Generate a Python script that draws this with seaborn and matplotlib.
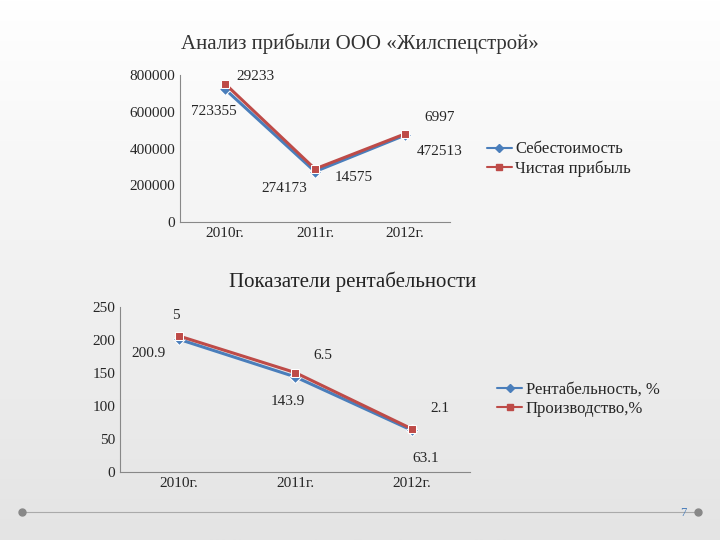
import matplotlib
matplotlib.use("Agg")
import matplotlib.pyplot as plt
import seaborn as sns
import pandas as pd
import numpy as np

years = ["2010г.", "2011г.", "2012г."]
cost = [723355, 274173, 472513]
profit = [29233, 14575, 6997]
rent = [200.9, 143.9, 63.1]
prod = [5, 6.5, 2.1]

sns.set_style("white")
plt.rcParams['font.family'] = ['Liberation Serif', 'DejaVu Serif']
BLUE = "#4a7ebb"; RED = "#be4b48"

fig = plt.figure(figsize=(7.2, 5.4), dpi=100)
bg = fig.add_axes([0, 0, 1, 1], zorder=-10)
g = np.linspace(0, 1, 256).reshape(-1, 1)
bg.imshow(g, cmap=matplotlib.colors.LinearSegmentedColormap.from_list("g", ["#ffffff", "#e4e4e4"]), aspect="auto", extent=[0, 1, 0, 1])
bg.axis("off")
bg.plot([0.03, 0.97], [0.052, 0.052], color="#aaaaaa", lw=0.8)
bg.plot([0.03, 0.97], [0.052, 0.052], "o", color="#888888", ms=5)
bg.text(0.945, 0.045, "7", fontsize=9, color="#4a7ebb")
bg.set_xlim(0, 1); bg.set_ylim(0, 1)

def chart(rect, base, add, names, ylim, yticks, title, ty, lx, ly, base_off, add_off, fmt):
    ax = fig.add_axes(rect)
    ax.patch.set_alpha(0)
    df = pd.DataFrame({"x": years * 2,
                       "y": list(base) + [b + a for b, a in zip(base, add)],
                       "s": [names[0]] * 3 + [names[1]] * 3})
    sns.lineplot(data=df, x="x", y="y", hue="s", style="s", markers=["D", "s"], dashes=False,
                 palette=[BLUE, RED], lw=2.2, ms=6, ax=ax, legend=False, sort=False)
    for i in range(3):
        ax.annotate(fmt(base[i]), (i, base[i]), xytext=base_off[i], textcoords="offset points", fontsize=11, ha="center", va="center")
        ax.annotate(fmt(add[i]), (i, base[i] + add[i]), xytext=add_off[i], textcoords="offset points", fontsize=11, ha="center", va="center")
    ax.set_xlim(-0.5, 2.5); ax.set_ylim(*ylim); ax.set_yticks(yticks)
    ax.set_xlabel(""); ax.set_ylabel("")
    for s in ["top", "right"]:
        ax.spines[s].set_visible(False)
    for s in ["left", "bottom"]:
        ax.spines[s].set_color("#888888")
    ax.tick_params(labelsize=11, length=0)
    fig.text(0.5 if ty > 0.8 else 0.49, ty, title, ha="center", fontsize=15, color="#333333" if ty > 0.8 else "#222222")
    h = [plt.Line2D([], [], color=BLUE, marker="D", ms=4, lw=1.5), plt.Line2D([], [], color=RED, marker="s", ms=4, lw=1.5)]
    fig.legend(h, names, loc="center left", bbox_to_anchor=(lx, ly), frameon=False, fontsize=12, handlelength=1.5, handletextpad=0.2, labelspacing=0.2)
    return ax

chart([0.25, 0.589, 0.375, 0.272], cost, profit, ["Себестоимость", "Чистая прибыль"], (0, 800000),
      [0, 200000, 400000, 600000, 800000], "Анализ прибыли ООО «Жилспецстрой»", 0.91, 0.655, 0.705,
      [(-8, -16), (-22, -12), (25, -12)], [(22, 5), (28, -6), (25, 12)], lambda v: f"{v:d}")
chart([0.167, 0.126, 0.486, 0.306], rent, prod, ["Рентабельность, %", "Производство,%"], (0, 250),
      [0, 50, 100, 150, 200, 250], "Показатели рентабельности", 0.468, 0.67, 0.26,
      [(-22, -10), (-5, -18), (10, -20)], [(-2, 15), (20, 12), (20, 15)], lambda v: f"{v:g}")

fig.savefig("out.png", dpi=100)
